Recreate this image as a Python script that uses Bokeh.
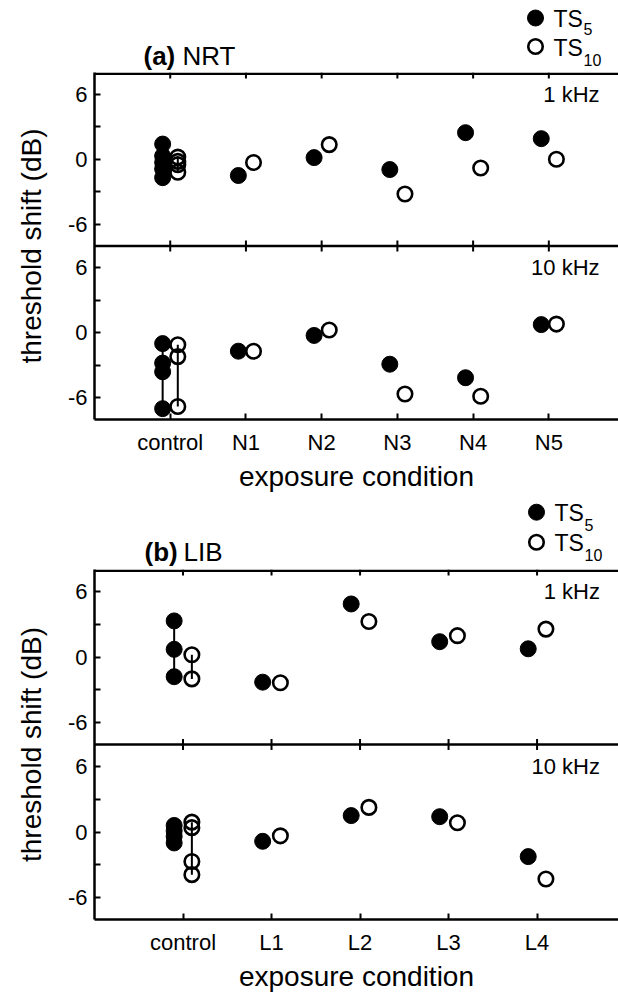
from bokeh.plotting import figure
from bokeh.models import Range1d, FixedTicker, Span
from bokeh.layouts import column
from bokeh.embed import file_html
from bokeh.resources import INLINE
from bokeh.core.properties import value

FONT = "Liberation Sans"

# ---------------- data ----------------
y_ticks = [-6, -3, 0, 3, 6]
y_tick_labels = ["-6", "", "0", "", "6"]

# (a) NRT
cats_a = ["control", "N1", "N2", "N3", "N4", "N5"]
a1k_ctrl_ts5 = [1.4, 0.3, -0.3, -0.9, -1.7]
a1k_ctrl_ts10 = [0.2, -0.2, -0.5, -1.2]
a1k_ts5 = [-1.5, 0.15, -0.95, 2.45, 1.9]
a1k_ts10 = [-0.3, 1.35, -3.2, -0.8, 0.0]
a10k_ctrl_ts5 = [-1.0, -2.8, -3.6, -7.0]
a10k_ctrl_ts10 = [-1.1, -2.2, -6.8]
a10k_ts5 = [-1.7, -0.25, -2.9, -4.15, 0.75]
a10k_ts10 = [-1.7, 0.25, -5.65, -5.85, 0.8]

# (b) LIB
cats_b = ["control", "L1", "L2", "L3", "L4"]
b1k_ctrl_ts5 = [3.3, 0.7, -1.8]
b1k_ctrl_ts10 = [0.2, -2.0]
b1k_ts5 = [-2.3, 4.85, 1.4, 0.75]
b1k_ts10 = [-2.35, 3.25, 1.95, 2.55]
b10k_ctrl_ts5 = [0.6, 0.1, -0.4, -1.0]
b10k_ctrl_ts10 = [0.9, 0.4, -2.7, -3.9]
b10k_ts5 = [-0.85, 1.5, 1.4, -2.25]
b10k_ts10 = [-0.35, 2.25, 0.85, -4.3]

series_main = "TS"
series_subs = ["5", "10"]

# ---------------- layout ----------------
W = 618
LEFT = 94
FRAME_W = W - LEFT
OFF = 0.1          # horizontal offset of TS5 / TS10 markers
SHIFT = 16         # the upper (1 kHz) sub-panel sits 16 units above the lower one

FILLED = dict(size=16, fill_color="black", line_color="black", line_width=1)
OPEN = dict(size=14.5, fill_color=None, line_color="black", line_width=2.6)


def base_fig(height, x_end, y_range, border_bottom=0):
    p = figure(width=W, height=height, x_range=Range1d(0, x_end), y_range=y_range,
               output_backend="svg", toolbar_location=None,
               min_border_left=LEFT, min_border_right=0, min_border_top=0,
               min_border_bottom=border_bottom,
               outline_line_color=None, background_fill_color="white", border_fill_color="white")
    return p


def htext(p, x, y, txt, size, bold=False):
    p.text(x=[x], y=[y], text=[txt], text_align="left", text_baseline="middle",
           text_font=value(FONT), text_font_size=size,
           text_font_style="bold" if bold else "normal", text_color="black")


def make_header(tag, name, x_end, page_top, page_bottom, leg_centers, sub_y, title_px):
    """Panel title and series key, drawn in a strip above the panel (y = page pixels)."""
    h = page_bottom - page_top
    p = base_fig(h, x_end, Range1d(page_bottom, page_top))
    p.xaxis.visible = False
    p.yaxis.visible = False
    p.xgrid.visible = False
    p.ygrid.visible = False
    ppu_x = FRAME_W / x_end

    def xd(px):
        return (px - LEFT) / ppu_x

    (c5x, c5y), (c10x, c10y) = leg_centers
    p.scatter([xd(c5x)], [c5y], **FILLED)
    p.scatter([xd(c10x)], [c10y], **OPEN)
    for (cx, cy), sub, sy in zip(leg_centers, series_subs, sub_y):
        htext(p, xd(cx + 18), cy + 1, series_main, "23px")
        htext(p, xd(cx + 48), sy, sub, "16px")
    tx, ty = title_px
    htext(p, xd(tx), ty, tag, "26px", bold=True)
    htext(p, xd(tx + 39), ty, name, "26px")
    return p


def make_panel(cats, d1k, d10k, x_end, frame_h, height, khz_x):
    n = len(cats)
    pos = list(range(1, n + 1))
    ppu_y = frame_h / 32.0

    p = base_fig(height, x_end, Range1d(-8, 24), border_bottom=height - frame_h)
    p.extra_y_ranges = {"top": Range1d(-24, 8)}
    p.xgrid.visible = False
    p.ygrid.visible = False

    xa = p.xaxis[0]
    xa.ticker = FixedTicker(ticks=pos)
    xa.major_label_overrides = {i: c for i, c in zip(pos, cats)}
    xa.axis_label = "exposure condition"
    ya = p.yaxis[0]
    ticks = y_ticks + [t + SHIFT for t in y_ticks]
    ya.ticker = FixedTicker(ticks=ticks)
    ya.major_label_overrides = {t: l for t, l in zip(ticks, y_tick_labels + y_tick_labels)}
    ya.axis_label = "threshold shift (dB)"

    for ax in (xa, ya):
        ax.axis_line_width = 2.5
        ax.axis_line_color = "black"
        ax.major_tick_in = 6
        ax.major_tick_out = 0
        ax.major_tick_line_width = 2
        ax.major_tick_line_color = "black"
        ax.minor_tick_line_color = None
        ax.major_label_text_font = FONT
        ax.major_label_text_font_size = "22px"
        ax.major_label_text_color = "black"
        ax.axis_label_text_font = FONT
        ax.axis_label_text_font_size = "28px"
        ax.axis_label_text_font_style = "normal"
        ax.axis_label_text_color = "black"
    xa.major_label_standoff = 10
    xa.axis_label_standoff = 3
    ya.major_label_standoff = 7
    ya.axis_label_standoff = 18

    # top border with inward ticks
    edge = 1.25 / ppu_y
    p.add_layout(Span(location=24 - edge, dimension="width", line_color="black", line_width=2.5))
    p.segment(x0=pos, y0=[24] * n, x1=pos, y1=[24 - 6 / ppu_y] * n,
              line_color="black", line_width=2)
    # separator between 1 kHz (upper) and 10 kHz (lower) with ticks on both sides
    p.add_layout(Span(location=8, dimension="width", line_color="black", line_width=2.5))
    p.segment(x0=pos, y0=[8 - 5.5 / ppu_y] * n, x1=pos, y1=[8 + 5.5 / ppu_y] * n,
              line_color="black", line_width=2)

    for rng, (c5, c10, v5, v10), khz in (("top", d1k, "1 kHz"), ("default", d10k, "10 kHz")):
        p.segment(x0=[1 - OFF], y0=[min(c5)], x1=[1 - OFF], y1=[max(c5)],
                  line_color="black", line_width=2, y_range_name=rng)
        p.segment(x0=[1 + OFF], y0=[min(c10)], x1=[1 + OFF], y1=[max(c10)],
                  line_color="black", line_width=2, y_range_name=rng)
        x5 = [1 - OFF] * len(c5) + [i - OFF for i in pos[1:]]
        y5 = list(c5) + list(v5)
        x10 = [1 + OFF] * len(c10) + [i + OFF for i in pos[1:]]
        y10 = list(c10) + list(v10)
        p.scatter(x5, y5, y_range_name=rng, **FILLED)
        p.scatter(x10, y10, y_range_name=rng, **OPEN)
        p.text(x=[khz_x], y=[6], text=[khz], text_align="right", text_baseline="middle",
               text_font=value(FONT), text_font_size="22px", text_color="black",
               y_range_name=rng)
    return p


ha = make_header("(a)", "NRT", 6.92, 0, 72, [(535, 17.5), (535, 46)], [28.5, 59], (143, 55))
pa = make_panel(cats_a,
                (a1k_ctrl_ts5, a1k_ctrl_ts10, a1k_ts5, a1k_ts10),
                (a10k_ctrl_ts5, a10k_ctrl_ts10, a10k_ts5, a10k_ts10),
                x_end=6.92, frame_h=354, height=422, khz_x=6.67)
hb = make_header("(b)", "LIB", 5.92, 494, 569, [(536, 511.7), (536, 541.7)], [524, 554],
                 (144, 551.5))
pb = make_panel(cats_b,
                (b1k_ctrl_ts5, b1k_ctrl_ts10, b1k_ts5, b1k_ts10),
                (b10k_ctrl_ts5, b10k_ctrl_ts10, b10k_ts5, b10k_ts10),
                x_end=5.92, frame_h=353, height=425, khz_x=5.71)

layout = column(ha, pa, hb, pb, spacing=0)
open("out.html", "w").write(file_html(layout, INLINE))
